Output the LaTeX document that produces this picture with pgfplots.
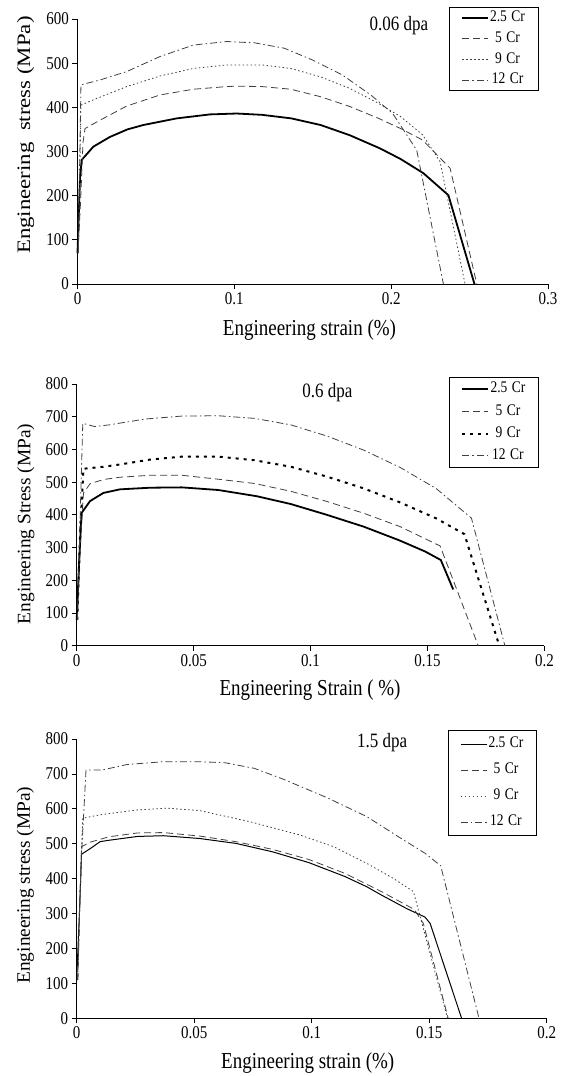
\documentclass[border=0pt]{standalone}
\usepackage{fontspec}
\setmainfont{Liberation Serif}
\usepackage{graphicx}
\usepackage{pgfplots}
\pgfplotsset{compat=1.18}
\newcommand{\vs}[1]{\scalebox{1}[1.2]{#1}}
\newcommand{\ls}[1]{\scalebox{1.2}[1]{#1}}
\newcommand{\lt}[1]{\scalebox{1.02}[1]{#1}}
\begin{document}
\begin{tikzpicture}
\path[use as bounding box] (0pt,0pt) rectangle (570pt,-1076pt);
\pgfplotsset{
  panel/.style={
    scale only axis, anchor=south west, clip=false,
    axis x line*=bottom, axis y line*=left,
    axis line style={line width=1pt, black},
    tick align=outside, major tick length=5pt,
    tick style={line width=0.8pt, black},
    scaled ticks=false,
    tick label style={font=\fontsize{15}{15}\selectfont},
    label style={font=\fontsize{19}{19}\selectfont},
    legend cell align=center,
    legend style={draw=black, line width=1pt, anchor=north west,
      inner xsep=12pt, column sep=0pt,
      nodes={inner sep=0pt, text height=9pt, text depth=1.5pt,
        font=\fontsize{13.5}{13.5}\selectfont, text width=37pt, align=center}},
    legend image code/.code={\draw[##1] (0pt,0pt) -- (26pt,0pt);},
    ymin=0, xmin=0,
  },
  sol/.style={black, line width=1.8pt},
  dsh/.style={black!75, line width=0.8pt, dash pattern=on 7pt off 4pt},
  dot/.style={black!75, line width=0.8pt, dash pattern=on 1.5pt off 2.5pt},
  dd/.style={black!75, line width=0.8pt, dash pattern=on 7pt off 3pt on 1.5pt off 3pt},
}
% ---------------- Panel 1 ----------------
\begin{axis}[panel,
  at={(77.5pt,-284pt)}, width=470.5pt, height=265pt,
  xmax=0.3, ymax=600,
  xtick={0,0.1,0.2,0.3}, ytick={0,100,200,300,400,500,600},
  xticklabels={\vs{0},\vs{0.1},\vs{0.2},\vs{0.3}},
  yticklabels={\vs{0},\vs{100},\vs{200},\vs{300},\vs{400},\vs{500},\vs{600}},
  xlabel={\vs{Engineering strain (\%)}},
  ylabel={\ls{Engineering\ \ stress (MPa)}},
  xlabel style={at={(axis description cs:0.493,-0.174)}, anchor=center},
  ylabel style={at={(axis description cs:-0.1105,0.562)}, anchor=center},
  legend style={at={(axis description cs:0.789,1.045)}, row sep=10.2pt, inner ysep=5.2pt},
]
\addplot[sol] coordinates {(0,70) (0.0016,240) (0.0027,281) (0.0101,311) (0.0207,333) (0.0318,350) (0.042,360) (0.0633,375) (0.0845,384) (0.1015,386) (0.1177,383) (0.1363,375) (0.155,360) (0.1735,337) (0.1929,307) (0.206,283) (0.2205,251) (0.2365,201) (0.2531,0)};
\addlegendentry{\vs{2.5 Cr}}
\addplot[dsh] coordinates {(0.0003,70) (0.002,190) (0.0035,320) (0.0048,352) (0.0144,371) (0.0314,403) (0.0526,428) (0.0739,441) (0.0952,447) (0.1015,448) (0.1177,447) (0.136,441) (0.155,424) (0.1735,402) (0.192,375) (0.206,352) (0.22,326) (0.2376,262) (0.2546,0)};
\addlegendentry{\vs{5 Cr}}
\addplot[dot] coordinates {(0.0005,70) (0.0015,250) (0.0022,405) (0.0101,417) (0.0314,447) (0.0526,471) (0.0739,488) (0.0952,496) (0.1177,496) (0.136,488) (0.155,469) (0.1735,443) (0.192,409) (0.206,379) (0.22,338) (0.2312,277) (0.2471,0)};
\addlegendentry{\vs{9 Cr}}
\addplot[dd] coordinates {(0.0005,70) (0.0015,300) (0.0022,451) (0.0144,462) (0.0314,481) (0.0526,515) (0.0739,541) (0.0952,549) (0.113,546) (0.1317,534) (0.15,507) (0.169,473) (0.187,428) (0.201,386) (0.2163,303) (0.2333,0)};
\addlegendentry{\vs{12 Cr}}
\node[font=\fontsize{17}{17}\selectfont] at (axis description cs:0.683,0.977) {\vs{0.06 dpa}};
\end{axis}
% ---------------- Panel 2 ----------------
\begin{axis}[panel,
  at={(76.7pt,-645.7pt)}, width=467.7pt, height=261.7pt,
  xmax=0.2, ymax=800,
  xtick={0,0.05,0.1,0.15,0.2}, ytick={0,100,200,300,400,500,600,700,800},
  xticklabels={\vs{0},\vs{0.05},\vs{0.1},\vs{0.15},\vs{0.2}},
  yticklabels={\vs{0},\vs{100},\vs{200},\vs{300},\vs{400},\vs{500},\vs{600},\vs{700},\vs{800}},
  xlabel={\vs{Engineering Strain ( \%)}},
  ylabel={\lt{Engineering Stress (MPa)}},
  xlabel style={at={(axis description cs:0.499,-0.169)}, anchor=center},
  ylabel style={at={(axis description cs:-0.109,0.465)}, anchor=center},
  legend style={at={(axis description cs:0.796,1.027)}, row sep=11.8pt, inner ysep=6.3pt},
]
\addplot[sol] coordinates {(0,78) (0.001,250) (0.0021,406) (0.0057,442) (0.0114,467) (0.0185,478) (0.0314,483) (0.045,484) (0.0605,476) (0.077,457) (0.0916,433) (0.107,400) (0.1227,364) (0.138,322) (0.149,288) (0.1557,262) (0.161,172)};
\addlegendentry{\vs{2.5 Cr}}
\addplot[dsh] coordinates {(0.0003,80) (0.0015,300) (0.0029,467) (0.0057,495) (0.0114,508) (0.0185,515) (0.0314,521) (0.045,521) (0.0605,509) (0.076,496) (0.0916,472) (0.107,441) (0.1227,405) (0.1383,364) (0.1554,305) (0.1717,0)};
\addlegendentry{\vs{5 Cr}}
\addplot[black, line width=2pt, dash pattern=on 3pt off 5pt] coordinates {(0.0003,80) (0.0015,350) (0.0029,541) (0.0114,547) (0.0185,554) (0.0314,569) (0.045,578) (0.0605,578) (0.076,567) (0.0916,547) (0.107,517) (0.1227,481) (0.1383,438) (0.1538,389) (0.1658,341) (0.1807,0)};
\addlegendentry{\vs{9 Cr}}
\addplot[dd] coordinates {(0.0003,80) (0.0015,400) (0.0026,680) (0.0076,670) (0.0138,675) (0.0294,693) (0.045,702) (0.0605,703) (0.076,695) (0.0916,675) (0.107,641) (0.1227,598) (0.1383,545) (0.1538,480) (0.1688,390) (0.1831,0)};
\addlegendentry{\vs{12 Cr}}
\node[font=\fontsize{17}{17}\selectfont] at (axis description cs:0.536,0.966) {\vs{0.6 dpa}};
\end{axis}
% ---------------- Panel 3 ----------------
\begin{axis}[panel,
  at={(76.6pt,-1018.3pt)}, width=470.1pt, height=279.3pt,
  xmax=0.2, ymax=800,
  xtick={0,0.05,0.1,0.15,0.2}, ytick={0,100,200,300,400,500,600,700,800},
  xticklabels={\vs{0},\vs{0.05},\vs{0.1},\vs{0.15},\vs{0.2}},
  yticklabels={\vs{0},\vs{100},\vs{200},\vs{300},\vs{400},\vs{500},\vs{600},\vs{700},\vs{800}},
  xlabel={\vs{Engineering strain (\%)}},
  ylabel={\lt{Engineering stress (MPa)}},
  xlabel style={at={(axis description cs:0.4916,-0.161)}, anchor=center},
  ylabel style={at={(axis description cs:-0.109,0.477)}, anchor=center},
  legend style={at={(axis description cs:0.79,1.032)}, row sep=15.5pt, inner ysep=8.2pt},
]
\addplot[black, line width=1pt] coordinates {(0,105) (0.0012,300) (0.0021,470) (0.006,487) (0.01,506) (0.0138,510) (0.026,521) (0.037,523) (0.0524,515) (0.0678,501) (0.0833,477) (0.0988,446) (0.1142,406) (0.1234,377) (0.1297,353) (0.1405,314) (0.1482,290) (0.1504,272) (0.1638,0)};
\addlegendentry{\vs{2.5 Cr}}
\addplot[dsh] coordinates {(0.0005,110) (0.0012,300) (0.0021,492) (0.006,505) (0.0138,520) (0.026,531) (0.037,532) (0.0524,522) (0.0678,506) (0.0833,484) (0.0988,455) (0.1142,415) (0.1297,363) (0.1436,312) (0.1475,272) (0.1581,0)};
\addlegendentry{\vs{5 Cr}}
\addplot[dot] coordinates {(0.0005,110) (0.0012,300) (0.0021,480) (0.0026,573) (0.01,583) (0.026,597) (0.0383,602) (0.0524,595) (0.0738,563) (0.095,525) (0.1092,492) (0.1234,444) (0.1347,401) (0.1433,363) (0.1578,0)};
\addlegendentry{\vs{9 Cr}}
\addplot[dd] coordinates {(0.0005,110) (0.0015,350) (0.0022,482) (0.004,711) (0.0107,711) (0.0215,727) (0.037,735) (0.0524,735) (0.0632,732) (0.0756,716) (0.0879,685) (0.1065,632) (0.1234,578) (0.1374,518) (0.1482,473) (0.1549,437) (0.1712,0)};
\addlegendentry{\vs{12 Cr}}
\node[font=\fontsize{17}{17}\selectfont] at (axis description cs:0.65,0.986) {\vs{1.5 dpa}};
\end{axis}
\end{tikzpicture}
\end{document}
